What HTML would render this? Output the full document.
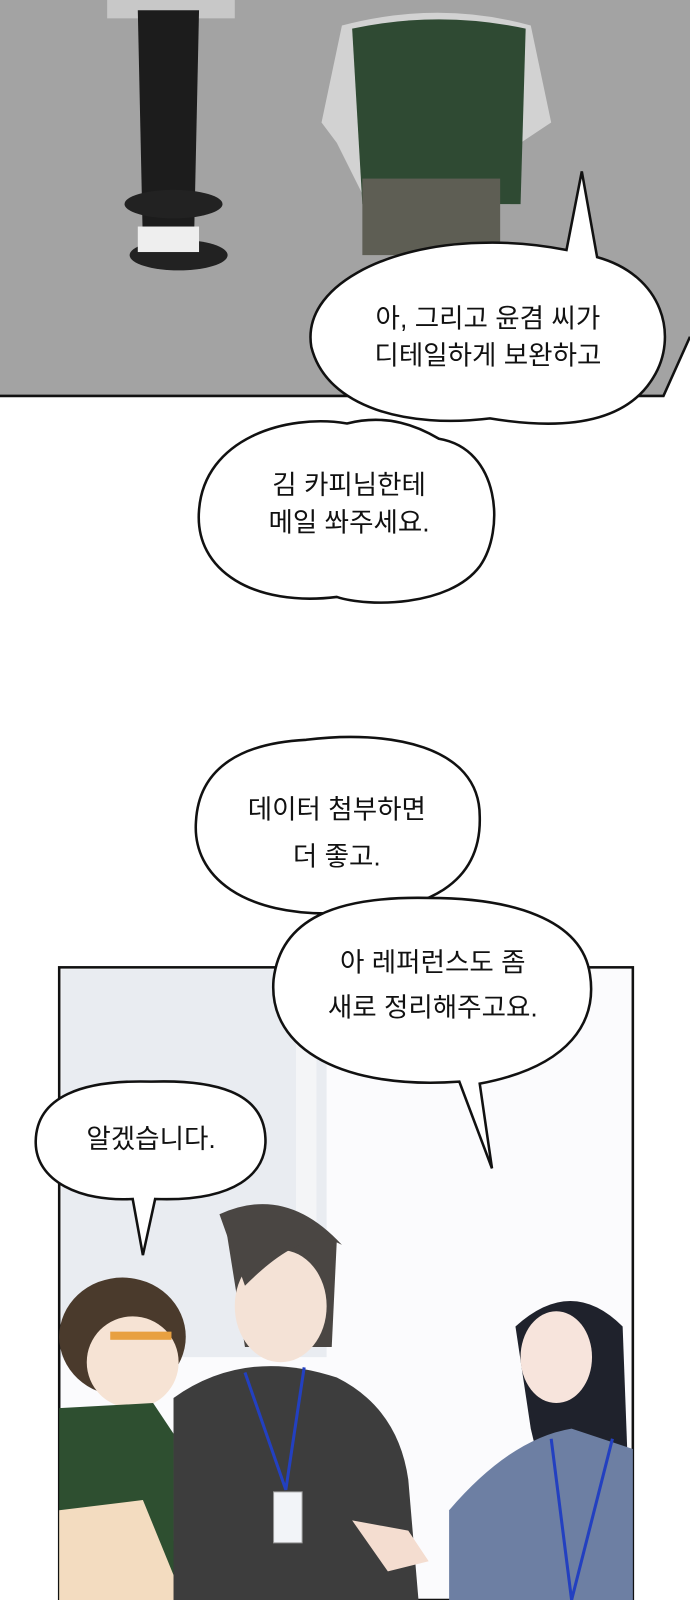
<!DOCTYPE html>
<html><head><meta charset="utf-8"><style>
html,body{margin:0;padding:0;background:#fff;width:690px;height:1600px;overflow:hidden}
svg{display:block}
text{font-family:"Liberation Sans","Noto Sans CJK KR",sans-serif;font-size:26px;fill:#111;text-anchor:middle}
</style></head><body>
<svg width="690" height="1600" viewBox="0 0 676 1568" preserveAspectRatio="none" xmlns="http://www.w3.org/2000/svg">
<polygon points="0,0 676,0 676,330 650,388 0,388" fill="#a3a3a3"/>
<polyline points="0,388 650,388 676,330" fill="none" stroke="#111" stroke-width="2.5"/>
<rect x="105" y="0" width="125" height="18" fill="#c8c8c8"/>
<path d="M135,10 L195,10 L190,240 L140,240 Z" fill="#1c1c1c"/>
<ellipse cx="170" cy="200" rx="48" ry="14" fill="#222"/>
<ellipse cx="175" cy="250" rx="48" ry="15" fill="#222"/>
<rect x="135" y="222" width="60" height="25" fill="#eee"/>
<path d="M335,25 Q430,0 520,25 L540,120 L510,140 L500,200 L360,200 L330,140 L315,120 Z" fill="#d2d2d2"/>
<path d="M345,28 Q430,10 515,28 L510,200 L355,200 Z" fill="#2f4a33"/>
<rect x="355" y="175" width="135" height="75" fill="#5e5e54"/>
<rect x="58" y="948" width="562" height="620" fill="#fbfbfd" stroke="#111" stroke-width="2.5"/>
<rect x="60" y="950" width="260" height="380" fill="#e9ecf1"/>
<rect x="290" y="950" width="20" height="300" fill="#f4f5f7"/>
<ellipse cx="120" cy="1310" rx="62" ry="58" fill="#4a3a2c"/>
<ellipse cx="130" cy="1335" rx="45" ry="45" fill="#f6e3d4"/>
<rect x="108" y="1305" width="60" height="8" fill="#e8a040"/>
<path d="M58,1380 L150,1375 L180,1420 L200,1568 L58,1568 Z" fill="#2e4f30"/>
<path d="M58,1480 L140,1470 L180,1568 L58,1568 Z" fill="#f3dcc0"/>
<rect x="170" y="1400" width="15" height="110" fill="#bcbcbc"/>
<path d="M220,1195 Q270,1170 330,1215 L325,1320 L240,1320 Z" fill="#4a4643"/>
<ellipse cx="275" cy="1280" rx="45" ry="55" fill="#f4e2d6"/>
<path d="M215,1190 Q280,1160 335,1220 Q300,1200 240,1260 Z" fill="#4a4643"/>
<path d="M170,1370 Q240,1320 330,1350 Q390,1380 400,1450 L410,1568 L170,1568 Z" fill="#3d3d3d"/>
<path d="M240,1345 L280,1460 L298,1340" fill="none" stroke="#2340c0" stroke-width="3"/>
<rect x="268" y="1462" width="28" height="50" fill="#f2f4f8" stroke="#999"/>
<path d="M505,1300 Q560,1250 610,1300 L620,1568 L560,1568 L520,1400 Z" fill="#1f222c"/>
<ellipse cx="545" cy="1330" rx="35" ry="45" fill="#f7e4dc"/>
<path d="M440,1480 Q500,1410 560,1400 L620,1420 L620,1568 L440,1568 Z" fill="#6d7fa3"/>
<path d="M345,1490 L400,1500 L420,1530 L380,1540 Z" fill="#f4ddd0"/>
<path d="M540,1410 L560,1568 L600,1410" fill="none" stroke="#2340c0" stroke-width="3"/>
<g fill="#fff" stroke="#111" stroke-width="2.5">
<path d="M555,245 L570,168 L585,252 C650,270 665,330 640,370 C610,420 540,420 480,410 C400,420 320,400 305,340 C295,280 380,240 470,238 C500,237 530,240 555,245 Z"/>
<path d="M430,430 C490,440 495,520 470,555 C440,595 360,595 330,585 C250,595 190,560 195,500 C200,430 280,405 340,415 C380,405 410,418 430,430 Z"/>
<path d="M300,725 C380,715 470,730 470,800 C472,865 420,895 330,895 C240,898 188,860 192,805 C195,750 240,728 300,725 Z"/>
<path d="M450,1060 L482,1145 L470,1062 C560,1045 585,1000 578,955 C570,900 500,880 420,880 C330,878 275,900 268,960 C262,1030 340,1068 450,1060 Z"/>
<path d="M130,1175 L140,1230 L152,1175 C230,1178 262,1150 260,1115 C258,1070 210,1058 148,1060 C80,1058 36,1075 35,1118 C34,1158 80,1178 130,1175 Z"/>
</g>
<text x="478" y="321">아, 그리고 윤겸 씨가</text>
<text x="478" y="357">디테일하게 보완하고</text>
<text x="342" y="484">김 카피님한테</text>
<text x="342" y="521">메일 쏴주세요.</text>
<text x="330" y="802">데이터 첨부하면</text>
<text x="330" y="848">더 좋고.</text>
<text x="424" y="952">아 레퍼런스도 좀</text>
<text x="424" y="996">새로 정리해주고요.</text>
<text x="148" y="1125">알겠습니다.</text>
</svg>
</body></html>
